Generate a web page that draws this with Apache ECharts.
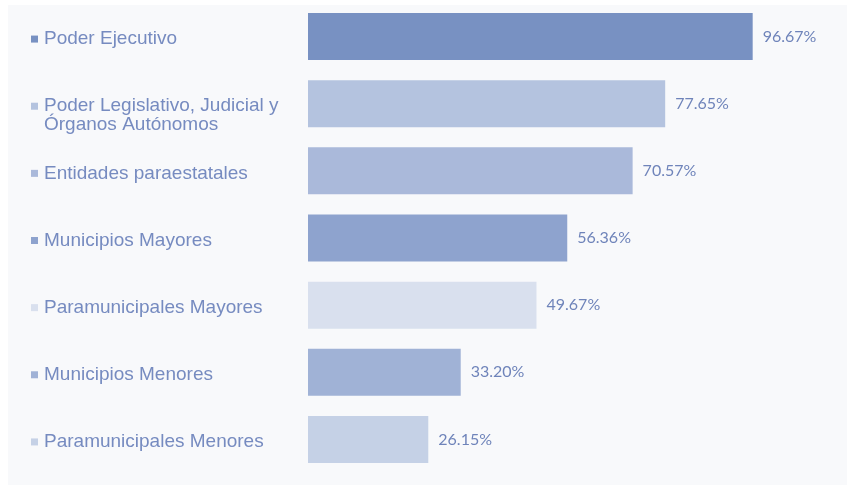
<!DOCTYPE html>
<html>
<head>
<meta charset="utf-8">
<script src="https://cdn.jsdelivr.net/npm/echarts@6/dist/echarts.min.js"></script>
<style>
  html, body { margin: 0; padding: 0; background: #ffffff; }
  #chart { width: 847px; height: 489px; }
</style>
</head>
<body>
<div id="chart"></div>
<script>
// Categories, top to bottom
const categories = [
  'Poder Ejecutivo',
  'Poder Legislativo, Judicial y\nÓrganos Autónomos',
  'Entidades paraestatales',
  'Municipios Mayores',
  'Paramunicipales Mayores',
  'Municipios Menores',
  'Paramunicipales Menores'
];

// Percentage per category
const values = [96.67, 77.65, 70.57, 56.36, 49.67, 33.20, 26.15];

// Fill colour per category
const barColors = ['#7891c2', '#b4c3df', '#aab9da', '#8ea3ce', '#d9e0ee', '#a0b2d6', '#c5d1e6'];

const textColor = '#768bc0';
const labelFont = '"Liberation Sans", Arial, sans-serif';

// Rich-text styles: one coloured square per category, the text, and an indent for wrapped lines
const rich = {
  t: { color: textColor, fontSize: 19, fontFamily: labelFont, lineHeight: 19 },
  i: { width: 13, fontSize: 19, lineHeight: 19 }
};
barColors.forEach((c, k) => {
  rich['s' + k] = { backgroundColor: c, width: 7, height: 7, fontSize: 1, lineHeight: 19 };
  rich['g' + k] = { width: 6, fontSize: 19, lineHeight: 19 };
});

function categoryLabel(value, index) {
  const lines = value.split('\n');
  const first = `{s${index}| }{g${index}| }{t|${lines[0]}}`;
  if (lines.length === 1) return first;
  const rest = lines.slice(1).map(l => `{i| }{t|${l}}`);
  // leading empty line keeps the first text line level with the bar centre
  return '\n' + [first].concat(rest).join('\n');
}

const chart = echarts.init(document.getElementById('chart'), null, { renderer: 'canvas' });

chart.setOption({
  animation: false,
  backgroundColor: '#ffffff',
  graphic: [{
    type: 'rect',
    z: -10,
    silent: true,
    shape: { x: 8, y: 5, width: 839, height: 480 },
    style: { fill: '#f8f9fb' }
  }],
  grid: {
    left: 308,
    right: 79,
    top: 3,
    bottom: 16,
    outerBoundsMode: 'none'
  },
  xAxis: {
    type: 'value',
    min: 0,
    max: 100,
    show: false
  },
  yAxis: {
    type: 'category',
    inverse: true,
    data: categories,
    axisLine: { show: false },
    axisTick: { show: false },
    splitLine: { show: false },
    axisLabel: {
      align: 'left',
      margin: 277,
      lineHeight: 19,
      fontSize: 19,
      padding: [5, 0, 0, 0],
      color: textColor,
      formatter: categoryLabel,
      rich: rich
    }
  },
  series: [{
    type: 'bar',
    barWidth: 47,
    data: values.map((v, k) => ({ value: v, itemStyle: { color: barColors[k] } })),
    label: {
      show: true,
      position: 'right',
      distance: 10,
      padding: [3, 0, 0, 0],
      color: '#6f84ba',
      fontFamily: 'Lato, "Open Sans", sans-serif',
      fontSize: 16,
      formatter: p => p.value.toFixed(2) + '%'
    }
  }]
});
</script>
</body>
</html>
